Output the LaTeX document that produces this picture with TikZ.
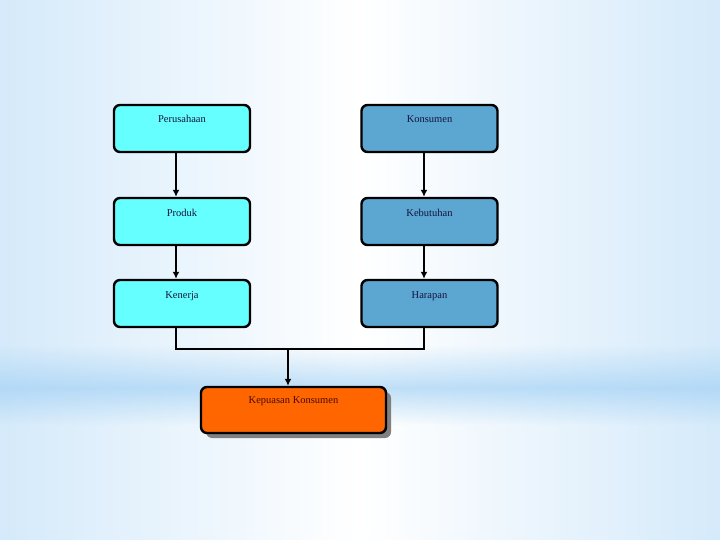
\documentclass[tikz,border=0pt]{standalone}
\usepackage{fontspec}
\setmainfont{Liberation Serif}
\usetikzlibrary{
  arrows.meta,
  shadows,
  fadings
}
\definecolor{bgblue}{RGB}{165,210,245}
\definecolor{boxcyan}{RGB}{102,255,255}
\definecolor{boxblue}{RGB}{91,167,210}
\definecolor{boxorange}{RGB}{255,102,0}
\definecolor{textnavy}{RGB}{20,20,60}
\definecolor{textbrown}{RGB}{70,10,10}
\pgfdeclarehorizontalshading{sidefade}{100bp}{color(0bp)=(bgblue); color(18bp)=(bgblue!60!white); color(50bp)=(white); color(82bp)=(bgblue!60!white); color(100bp)=(bgblue)}
\tikzfading[name=bandrise, top color=transparent!100, bottom color=transparent!0]
\tikzfading[name=bandsink, top color=transparent!0, bottom color=transparent!100]
\tikzset{
  stagebox/.style={
    draw,
    line width=2.4pt,
    rounded corners=6pt,
    minimum width=136pt,
    inner sep=4pt,
    text height=14pt,
    text depth=25pt,
    font=\fontsize{10.5}{12}\selectfont,
    text=textnavy
  },
  firmbox/.style={stagebox, fill=boxcyan},
  custbox/.style={stagebox, fill=boxblue},
  goalbox/.style={
    stagebox,
    minimum width=185pt,
    text height=12pt,
    text depth=26pt,
    fill=boxorange,
    text=textbrown,
    drop shadow={shadow xshift=5pt, shadow yshift=-5pt, fill=black!50, opacity=1}
  },
  flow/.style={
    draw,
    line width=1.9pt,
    -{Latex[length=7pt,width=7pt]}
  }
}
\begin{document}
\begin{tikzpicture}[x=1pt,y=-1pt]
  % background
  \useasboundingbox (0,0) rectangle (720,540);
  \shade[shading=sidefade] (0,0) rectangle (720,540);
  \fill[bgblue, opacity=.7, path fading=bandrise] (0,345) rectangle (720,388);
  \fill[bgblue, opacity=.7, path fading=bandsink] (0,388) rectangle (720,425);

  % left column
  \node[firmbox] (per) at (182,128.5) {Perusahaan};
  \node[firmbox] (prod) at (182,221.5) {Produk};
  \node[firmbox] (kin) at (182,303.5) {Kenerja};

  % right column
  \node[custbox] (kon) at (429.5,128.5) {Konsumen};
  \node[custbox] (keb) at (429.5,221.5) {Kebutuhan};
  \node[custbox] (har) at (429.5,303.5) {Harapan};

  % result
  \node[goalbox] (kep) at (293.5,410) {Kepuasan Konsumen};

  \path[flow] ([xshift=-6pt]per.south) -- ([xshift=-6pt]prod.north);
  \path[flow] ([xshift=-6pt]prod.south) -- ([xshift=-6pt]kin.north);
  \path[flow] ([xshift=-5.5pt]kon.south) -- ([xshift=-5.5pt]keb.north);
  \path[flow] ([xshift=-5.5pt]keb.south) -- ([xshift=-5.5pt]har.north);

  \coordinate (join) at (288,349);
  \draw[line width=1.9pt] ([xshift=-6pt]kin.south) |- (join) -| ([xshift=-5.5pt]har.south);
  \path[flow] (join) -- (join |- kep.north);
\end{tikzpicture}
\end{document}
